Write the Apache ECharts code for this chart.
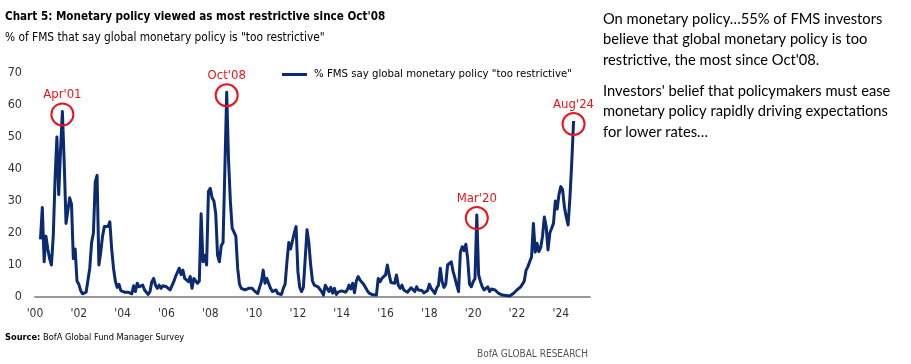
<!DOCTYPE html>
<html>
<head>
<meta charset="utf-8">
<script src="https://cdn.jsdelivr.net/npm/echarts@6/dist/echarts.min.js"></script>
<style>
html,body{margin:0;padding:0;background:#fff;}
#c{width:911px;height:364px;}
</style>
</head>
<body>
<div id="c"></div>
<script>
// Monthly % of FMS saying global monetary policy is "too restrictive"
const firstYear = 2000;
const firstMonth = 4; // series starts Apr 2000
const v2000 = [18, 28, 11, 19, 15, 12, 10, 19, 37];
const v2001 = [50, 32, 46, 58, 42, 23, 27, 31, 29, 12, 15, 5];
const v2002 = [4, 2, 1, 1.5, 1.5, 2, 9, 17, 20, 36, 38, 10];
const v2003 = [14, 19, 22, 22, 22, 23.5, 15, 9, 5, 3, 4, 2];
const v2004 = [2, 1.5, 2, 1.5, 1.8, 1, 3.5, 1.7, 4.3, 3.2, 2.7, 3.7];
const v2005 = [2.2, 1.7, 0.8, 1.7, 4.8, 5.8, 3.7, 2.7, 3.7, 2.7, 3.5, 3.7];
const v2006 = [3.2, 3.5, 2.2, 1.7, 4.8, 6.4, 7, 9, 7, 8.4, 5.8, 6.4];
const v2007 = [4.8, 6.4, 2.7, 5.8, 5.2, 4.3, 5, 26, 11, 13, 10, 33];
const v2008 = [34, 31, 30, 26, 13, 11, 16, 17, 40, 64, 43, 30];
const v2009 = [21.5, 21, 19, 9, 4, 2.7, 3.2, 2.2, 1.7, 2.7, 2.2, 2.7];
const v2010 = [2, 2.2, 1.1, 1.1, 4.8, 8.4, 4.3, 5.8, 5.6, 2.7, 1.7, 1.1];
const v2011 = [2.2, 1.1, 1.7, 0.8, 2.7, 4, 11, 17, 15, 15, 20, 22];
const v2012 = [8, 3, 1.7, 3, 12, 21, 17, 10, 5, 3.7, 3.2, 3.2];
const v2013 = [2.7, 1.7, 0.6, 3.7, 4, 1.7, 3, 1.2, 2.7, 0.8, 1.5, 1.7];
const v2014 = [1.9, 1.7, 1.5, 2.2, 3.7, 2.5, 4.3, 1.3, 5, 6.4, 5.3, 5.8];
const v2015 = [4, 3.5, 2, 1.2, 1.5, 0.7, 1.2, 0.6, 5.8, 4.8, 5.8, 5.3];
const v2016 = [6.9, 10, 6.9, 4.5, 4.8, 4.3, 6.9, 3.7, 2.7, 3.7, 2.2, 2];
const v2017 = [1.5, 2.2, 2.9, 2.5, 1.7, 3.2, 2.2, 2.2, 2, 1.3, 1.5, 2];
const v2018 = [4, 2.7, 1.9, 1.1, 2.7, 3.7, 9, 4.8, 3, 4, 10, 10.5];
const v2019 = [11, 8, 6, 3.7, 1.7, 14, 15.7, 14.5, 16.5, 12, 4, 3.2];
const v2020 = [4.8, 5.8, 25.6, 6.9, 4.8, 3.2, 2.2, 2.5, 3.2, 1.7, 2.5, 1.9];
const v2021 = [2.2, 1.7, 1.1, 1.7, 0.6, 1.1, 0.5, 0.9, 0.3, 0.6, 1.1, 1.7];
const v2022 = [2.2, 2.7, 3.2, 4, 5, 8.4, 9.5, 9, 12.6, 23, 14, 16.8];
const v2023 = [14.2, 15.5, 19, 25, 22, 14.7, 20, 21.5, 23, 30, 27.5, 32];
const v2024 = [34.5, 33.5, 28, 25, 22.5, 31, 42, 55];

const yearly = [v2000, v2001, v2002, v2003, v2004, v2005, v2006, v2007, v2008, v2009, v2010, v2011,
  v2012, v2013, v2014, v2015, v2016, v2017, v2018, v2019, v2020, v2021, v2022, v2023, v2024];

const xTickLabels = ["'00","'02","'04","'06","'08","'10","'12","'14","'16","'18","'20","'22","'24"];
const yTicks = [0, 10, 20, 30, 40, 50, 60, 70];

// annotated peaks: label, year, month
const peaks = [
  ["Apr'01", 2001, 4],
  ["Oct'08", 2008, 10],
  ["Mar'20", 2020, 3],
  ["Aug'24", 2024, 8]
];

const seriesName = '% FMS say global monetary policy "too restrictive"';

// month index from Jan 2000
const points = [];
yearly.forEach((arr, yi) => {
  const startM = yi === 0 ? firstMonth - 1 : 0;
  arr.forEach((v, i) => {
    points.push([yi * 12 + startM + i, v]);
  });
});
function valueAt(year, month) {
  const idx = (year - firstYear) * 12 + month - 1;
  const p = points.find(q => q[0] === idx);
  return [idx, p ? p[1] : 0];
}

const NARROW = "'DejaVu Sans Condensed','DejaVu Sans',sans-serif";
const RED = '#e8141e';
const NAVY = '#0b2a6f';

const chart = echarts.init(document.getElementById('c'));
chart.setOption({
  animation: false,
  backgroundColor: '#fff',
  title: [
    { text: "Chart 5: Monetary policy viewed as most restrictive since Oct'08", left: 5, top: 9, padding: 0,
      textStyle: { fontFamily: NARROW, fontSize: 11.6, fontWeight: 'bold', color: '#000', lineHeight: 16 } },
    { text: '% of FMS that say global monetary policy is "too restrictive"', left: 5, top: 30, padding: 0,
      textStyle: { fontFamily: NARROW, fontSize: 11.8, fontWeight: 'normal', color: '#000', lineHeight: 15 } },
    { text: '{b|Source:} BofA Global Fund Manager Survey', left: 5, top: 331, padding: 0,
      textStyle: { fontFamily: NARROW, fontSize: 9.2, fontWeight: 'normal', color: '#000', lineHeight: 13,
        rich: { b: { fontFamily: NARROW, fontSize: 9.2, fontWeight: 'bold', color: '#000' } } } },
    { text: 'BofA GLOBAL RESEARCH', right: 323, top: 348, padding: 0,
      textStyle: { fontFamily: NARROW, fontSize: 10, fontWeight: 'normal', color: '#555', lineHeight: 13 } },
    { text: "On monetary policy…55% of FMS investors\nbelieve that global monetary policy is too\nrestrictive, the most since Oct'08.",
      left: 603, top: 9, padding: 0,
      textStyle: { fontFamily: 'Lato, sans-serif', fontSize: 14.7, fontWeight: 'normal', color: '#000', lineHeight: 20.5 } },
    { text: "Investors' belief that policymakers must ease\nmonetary policy rapidly driving expectations\nfor lower rates…",
      left: 603, top: 81, padding: 0,
      textStyle: { fontFamily: 'Lato, sans-serif', fontSize: 14.7, fontWeight: 'normal', color: '#000', lineHeight: 20.5 } }
  ],
  legend: {
    left: 282, top: 69, padding: 0,
    itemWidth: 25, itemHeight: 3, itemGap: 10,
    icon: 'rect',
    textStyle: { fontFamily: NARROW, fontSize: 11.3, color: '#000', padding: [0, 0, 0, 2] },
    data: [seriesName]
  },
  grid: { left: 35, right: 321, top: 73, bottom: 67, containLabel: false },
  xAxis: {
    type: 'value', min: 0, max: 304, interval: 24,
    axisLine: { show: true, lineStyle: { color: '#999', width: 2 } },
    axisTick: { show: false },
    splitLine: { show: false },
    axisLabel: {
      showMaxLabel: false,
      margin: 11,
      fontFamily: NARROW, fontSize: 12, color: '#333',
      formatter: v => (v % 24 === 0 ? xTickLabels[v / 24] : '')
    }
  },
  yAxis: {
    type: 'value', min: yTicks[0], max: yTicks[yTicks.length - 1], interval: 10,
    axisLine: { show: false }, axisTick: { show: false }, splitLine: { show: false },
    axisLabel: { margin: 13, fontFamily: NARROW, fontSize: 12.5, color: '#333' }
  },
  series: [{
    name: seriesName,
    type: 'line',
    data: points,
    showSymbol: false,
    symbol: 'none',
    lineStyle: { color: NAVY, width: 3, join: 'round' },
    itemStyle: { color: NAVY },
    markPoint: {
      symbol: 'circle',
      symbolSize: 22,
      symbolOffset: [0, 3],
      silent: true,
      itemStyle: { color: 'rgba(0,0,0,0)', borderColor: RED, borderWidth: 2 },
      label: { show: true, position: 'top', distance: 1, color: RED, fontFamily: NARROW, fontSize: 13,
        formatter: p => p.name },
      data: peaks.map(p => ({ name: p[0], coord: valueAt(p[1], p[2]) }))
    }
  }]
});
</script>
</body>
</html>
